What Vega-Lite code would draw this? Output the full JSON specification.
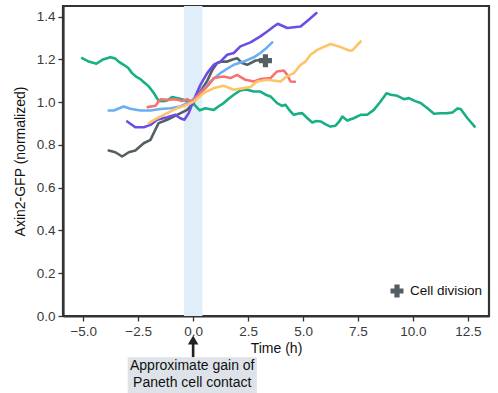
{
  "$schema": "https://vega.github.io/schema/vega-lite/v6.json",
  "width": 426,
  "height": 310,
  "autosize": {"type": "none"},
  "padding": {"left": 63, "top": 6, "right": 9, "bottom": 77},
  "config": {
    "font": "Liberation Sans",
    "view": {"stroke": "#333333", "strokeWidth": 2.2},
    "axis": {
      "domainColor": "#333333", "domainWidth": 2.2,
      "tickColor": "#333333", "tickWidth": 1.3, "tickSize": 5,
      "grid": false,
      "labelFont": "Liberation Sans", "labelFontSize": 13.5, "labelColor": "#3a3a3a",
      "titleFont": "Liberation Sans", "titleFontSize": 14, "titleFontWeight": "normal", "titleColor": "#111111"
    },
    "legend": {
      "labelFont": "Liberation Sans", "labelFontSize": 13.5, "labelColor": "#111111",
      "padding": 0
    }
  },
  "datasets": {
    "series": [
      {"c":"g","t":-5.05,"v":1.206},{"c":"g","t":-4.75,"v":1.19},{"c":"g","t":-4.4,"v":1.18},{"c":"g","t":-4.1,"v":1.2},{"c":"g","t":-3.77,"v":1.21},{"c":"g","t":-3.55,"v":1.205},{"c":"g","t":-3.39,"v":1.19},{"c":"g","t":-3.16,"v":1.175},{"c":"g","t":-2.95,"v":1.16},{"c":"g","t":-2.78,"v":1.136},{"c":"g","t":-2.6,"v":1.12},{"c":"g","t":-2.4,"v":1.108},{"c":"g","t":-2.2,"v":1.09},{"c":"g","t":-2.02,"v":1.074},{"c":"g","t":-1.79,"v":1.043},{"c":"g","t":-1.57,"v":1.006},{"c":"g","t":-1.35,"v":1.005},{"c":"g","t":-1.18,"v":1.008},{"c":"g","t":-0.96,"v":1.024},{"c":"g","t":-0.75,"v":1.02},{"c":"g","t":-0.43,"v":1.011},{"c":"g","t":-0.2,"v":1.0},{"c":"g","t":0.0,"v":0.995},{"c":"g","t":0.18,"v":0.975},{"c":"g","t":0.3,"v":0.962},{"c":"g","t":0.56,"v":0.972},{"c":"g","t":0.94,"v":0.964},{"c":"g","t":1.15,"v":0.98},{"c":"g","t":1.39,"v":0.996},{"c":"g","t":1.6,"v":1.015},{"c":"g","t":1.85,"v":1.035},{"c":"g","t":2.15,"v":1.055},{"c":"g","t":2.4,"v":1.06},{"c":"g","t":2.76,"v":1.05},{"c":"g","t":3.06,"v":1.05},{"c":"g","t":3.3,"v":1.035},{"c":"g","t":3.52,"v":1.027},{"c":"g","t":3.82,"v":0.996},{"c":"g","t":4.05,"v":0.983},{"c":"g","t":4.2,"v":0.988},{"c":"g","t":4.4,"v":0.96},{"c":"g","t":4.58,"v":0.941},{"c":"g","t":4.8,"v":0.947},{"c":"g","t":4.96,"v":0.949},{"c":"g","t":5.2,"v":0.925},{"c":"g","t":5.42,"v":0.905},{"c":"g","t":5.6,"v":0.912},{"c":"g","t":5.8,"v":0.91},{"c":"g","t":6.05,"v":0.895},{"c":"g","t":6.25,"v":0.886},{"c":"g","t":6.48,"v":0.89},{"c":"g","t":6.65,"v":0.91},{"c":"g","t":6.79,"v":0.933},{"c":"g","t":7.01,"v":0.914},{"c":"g","t":7.3,"v":0.925},{"c":"g","t":7.62,"v":0.941},{"c":"g","t":7.92,"v":0.941},{"c":"g","t":8.22,"v":0.964},{"c":"g","t":8.5,"v":1.0},{"c":"g","t":8.8,"v":1.042},{"c":"g","t":9.0,"v":1.035},{"c":"g","t":9.29,"v":1.03},{"c":"g","t":9.59,"v":1.014},{"c":"g","t":9.82,"v":1.019},{"c":"g","t":10.1,"v":1.005},{"c":"g","t":10.35,"v":0.996},{"c":"g","t":10.66,"v":0.972},{"c":"g","t":10.96,"v":0.946},{"c":"g","t":11.25,"v":0.948},{"c":"g","t":11.57,"v":0.949},{"c":"g","t":11.8,"v":0.952},{"c":"g","t":12.02,"v":0.971},{"c":"g","t":12.17,"v":0.968},{"c":"g","t":12.48,"v":0.925},{"c":"g","t":12.81,"v":0.886},
      {"c":"k","t":-3.84,"v":0.774},{"c":"k","t":-3.54,"v":0.766},{"c":"k","t":-3.23,"v":0.746},{"c":"k","t":-2.93,"v":0.766},{"c":"k","t":-2.63,"v":0.774},{"c":"k","t":-2.25,"v":0.808},{"c":"k","t":-1.94,"v":0.824},{"c":"k","t":-1.72,"v":0.871},{"c":"k","t":-1.57,"v":0.902},{"c":"k","t":-1.18,"v":0.918},{"c":"k","t":-0.73,"v":0.941},{"c":"k","t":-0.27,"v":0.964},{"c":"k","t":0.0,"v":0.995},{"c":"k","t":0.33,"v":1.05},{"c":"k","t":0.64,"v":1.1},{"c":"k","t":0.87,"v":1.15},{"c":"k","t":1.09,"v":1.183},{"c":"k","t":1.3,"v":1.19},{"c":"k","t":1.55,"v":1.19},{"c":"k","t":1.8,"v":1.2},{"c":"k","t":2.0,"v":1.206},{"c":"k","t":2.23,"v":1.183},{"c":"k","t":2.46,"v":1.175},{"c":"k","t":2.84,"v":1.195},{"c":"k","t":3.21,"v":1.198},
      {"c":"p","t":-3.0,"v":0.91},{"c":"p","t":-2.63,"v":0.883},{"c":"p","t":-2.25,"v":0.883},{"c":"p","t":-1.94,"v":0.894},{"c":"p","t":-1.64,"v":0.918},{"c":"p","t":-1.18,"v":0.93},{"c":"p","t":-0.81,"v":0.941},{"c":"p","t":-0.58,"v":0.925},{"c":"p","t":-0.4,"v":0.918},{"c":"p","t":-0.2,"v":0.949},{"c":"p","t":0.03,"v":1.011},{"c":"p","t":0.33,"v":1.081},{"c":"p","t":0.64,"v":1.136},{"c":"p","t":0.94,"v":1.175},{"c":"p","t":1.24,"v":1.19},{"c":"p","t":1.55,"v":1.222},{"c":"p","t":1.85,"v":1.23},{"c":"p","t":2.15,"v":1.261},{"c":"p","t":2.61,"v":1.28},{"c":"p","t":3.06,"v":1.308},{"c":"p","t":3.37,"v":1.331},{"c":"p","t":3.67,"v":1.354},{"c":"p","t":3.85,"v":1.367},{"c":"p","t":4.28,"v":1.347},{"c":"p","t":4.89,"v":1.354},{"c":"p","t":5.26,"v":1.386},{"c":"p","t":5.61,"v":1.417},
      {"c":"b","t":-3.84,"v":0.961},{"c":"b","t":-3.61,"v":0.961},{"c":"b","t":-3.16,"v":0.98},{"c":"b","t":-2.86,"v":0.969},{"c":"b","t":-2.4,"v":0.961},{"c":"b","t":-1.94,"v":0.961},{"c":"b","t":-1.49,"v":0.968},{"c":"b","t":-1.03,"v":0.972},{"c":"b","t":-0.58,"v":0.98},{"c":"b","t":-0.12,"v":1.003},{"c":"b","t":0.26,"v":1.035},{"c":"b","t":0.79,"v":1.097},{"c":"b","t":1.24,"v":1.136},{"c":"b","t":1.6,"v":1.16},{"c":"b","t":1.85,"v":1.175},{"c":"b","t":2.3,"v":1.19},{"c":"b","t":2.76,"v":1.21},{"c":"b","t":3.06,"v":1.23},{"c":"b","t":3.35,"v":1.255},{"c":"b","t":3.6,"v":1.28},
      {"c":"r","t":-2.07,"v":0.977},{"c":"r","t":-1.72,"v":0.983},{"c":"r","t":-1.49,"v":1.014},{"c":"r","t":-1.18,"v":1.011},{"c":"r","t":-0.81,"v":1.014},{"c":"r","t":-0.5,"v":1.006},{"c":"r","t":-0.27,"v":1.014},{"c":"r","t":-0.05,"v":1.003},{"c":"r","t":0.33,"v":1.043},{"c":"r","t":0.71,"v":1.081},{"c":"r","t":0.94,"v":1.113},{"c":"r","t":1.39,"v":1.12},{"c":"r","t":1.7,"v":1.113},{"c":"r","t":2.0,"v":1.128},{"c":"r","t":2.38,"v":1.105},{"c":"r","t":2.76,"v":1.097},{"c":"r","t":3.06,"v":1.108},{"c":"r","t":3.52,"v":1.113},{"c":"r","t":3.82,"v":1.144},{"c":"r","t":4.13,"v":1.148},{"c":"r","t":4.28,"v":1.128},{"c":"r","t":4.43,"v":1.097},{"c":"r","t":4.63,"v":1.096},
      {"c":"y","t":-2.02,"v":0.902},{"c":"y","t":-1.64,"v":0.925},{"c":"y","t":-1.18,"v":0.949},{"c":"y","t":-0.73,"v":0.972},{"c":"y","t":-0.27,"v":0.988},{"c":"y","t":0.03,"v":1.003},{"c":"y","t":0.48,"v":1.043},{"c":"y","t":0.94,"v":1.066},{"c":"y","t":1.39,"v":1.077},{"c":"y","t":1.85,"v":1.058},{"c":"y","t":2.3,"v":1.066},{"c":"y","t":2.61,"v":1.071},{"c":"y","t":2.91,"v":1.097},{"c":"y","t":3.37,"v":1.105},{"c":"y","t":3.98,"v":1.097},{"c":"y","t":4.2,"v":1.117},{"c":"y","t":4.58,"v":1.136},{"c":"y","t":4.89,"v":1.175},{"c":"y","t":5.11,"v":1.19},{"c":"y","t":5.34,"v":1.222},{"c":"y","t":5.65,"v":1.245},{"c":"y","t":6.25,"v":1.272},{"c":"y","t":6.63,"v":1.261},{"c":"y","t":7.09,"v":1.242},{"c":"y","t":7.24,"v":1.242},{"c":"y","t":7.62,"v":1.284}
    ]
  },
  "layer": [
    {
      "data": {"values": [{"t": -0.42, "t2": 0.42}]},
      "mark": {"type": "rect", "color": "#e0eef9"},
      "encoding": {
        "x": {"field": "t", "type": "quantitative", "scale": {"domain": [-5.92, 13.46], "nice": false, "zero": false}, "title": "Time (h)"},
        "x2": {"field": "t2"}
      }
    },
    {
      "data": {"name": "series"},
      "mark": {"type": "line", "strokeWidth": 2.6, "strokeJoin": "round", "strokeCap": "round"},
      "encoding": {
        "x": {"field": "t", "type": "quantitative", "scale": {"domain": [-5.92, 13.46], "nice": false, "zero": false},
              "axis": {"values": [-5, -2.5, 0, 2.5, 5, 7.5, 10, 12.5], "format": ".1f", "labelPadding": 3, "titlePadding": 4}, "title": "Time (h)"},
        "y": {"field": "v", "type": "quantitative", "scale": {"domain": [0, 1.45], "nice": false},
              "axis": {"values": [0, 0.2, 0.4, 0.6, 0.8, 1.0, 1.2, 1.4], "format": ".1f", "labelPadding": 3, "titlePadding": 9}, "title": "Axin2-GFP (normalized)"},
        "color": {"field": "c", "type": "nominal", "legend": null,
                  "scale": {"domain": ["g", "k", "p", "b", "r", "y"], "range": ["#17b084", "#555e60", "#6c4de6", "#6aaef5", "#f87171", "#fdc468"]}},
        "order": {"field": "t", "type": "quantitative"}
      }
    },
    {
      "data": {"values": [{"t": 3.29, "v": 1.194, "label": "Cell division"}]},
      "mark": {"type": "point", "filled": true, "color": "#555e60", "opacity": 1, "size": 170},
      "encoding": {
        "x": {"field": "t", "type": "quantitative", "title": "Time (h)"},
        "y": {"field": "v", "type": "quantitative", "title": "Axin2-GFP (normalized)"},
        "shape": {"field": "label", "type": "nominal", "scale": {"range": ["cross"]},
                  "legend": {"title": null, "orient": "none", "legendX": 327, "legendY": 278, "symbolSize": 170, "symbolFillColor": "#555e60", "symbolStrokeWidth": 0, "labelOffset": 6}}
      }
    },
    {
      "data": {"values": [{"t": -2.98, "t2": 2.9, "v": -0.193, "v2": -0.4}]},
      "mark": {"type": "rect", "color": "#dde3e8"},
      "encoding": {
        "x": {"field": "t", "type": "quantitative", "title": "Time (h)"},
        "x2": {"field": "t2"},
        "y": {"field": "v", "type": "quantitative", "title": "Axin2-GFP (normalized)"},
        "y2": {"field": "v2"}
      }
    },
    {
      "data": {"values": [{"t": -0.04, "v": -0.232, "label": "Approximate gain of\nPaneth cell contact"}]},
      "mark": {"type": "text", "fontSize": 14, "lineBreak": "\n", "lineHeight": 17, "baseline": "middle", "align": "center", "color": "#111111"},
      "encoding": {
        "x": {"field": "t", "type": "quantitative", "title": "Time (h)"},
        "y": {"field": "v", "type": "quantitative", "title": "Axin2-GFP (normalized)"},
        "text": {"field": "label"}
      }
    },
    {
      "data": {"values": [{"t": 0, "v": -0.13, "v2": -0.192}]},
      "mark": {"type": "rule", "strokeWidth": 2.6, "color": "#222222"},
      "encoding": {
        "x": {"field": "t", "type": "quantitative", "title": "Time (h)"},
        "y": {"field": "v", "type": "quantitative", "title": "Axin2-GFP (normalized)"},
        "y2": {"field": "v2"}
      }
    },
    {
      "data": {"values": [{"t": 0, "v": -0.112}]},
      "mark": {"type": "point", "shape": "triangle-up", "filled": true, "color": "#222222", "opacity": 1, "size": 110},
      "encoding": {
        "x": {"field": "t", "type": "quantitative", "title": "Time (h)"},
        "y": {"field": "v", "type": "quantitative", "title": "Axin2-GFP (normalized)"}
      }
    }
  ]
}
